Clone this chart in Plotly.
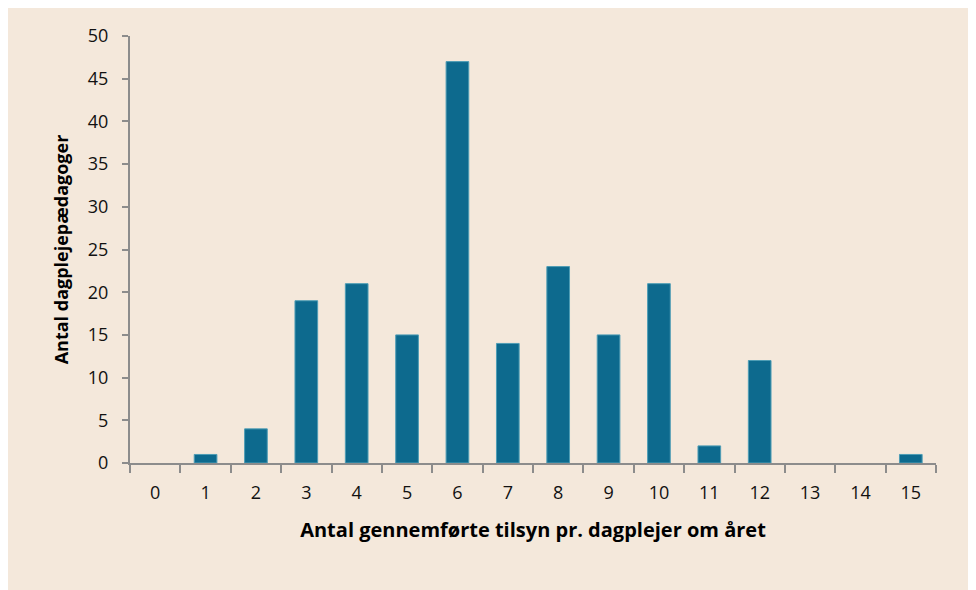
import plotly.graph_objects as go

categories = [str(i) for i in range(16)]
values = [0, 1, 4, 19, 21, 15, 47, 14, 23, 15, 21, 2, 12, 0, 0, 1]
y_ticks = [0, 5, 10, 15, 20, 25, 30, 35, 40, 45, 50]

# page has an 8px body margin, figure drawn at (8, 8)
OFF = 8
W, H = 976 - OFF, 590 - OFF
ML, MR, MT, MB = 130 - OFF, 40, 36 - OFF, 127

BG = "#F4E8DB"
BAR = "#0D6A8E"
AX = "#8C8C8C"
FONT = "Open Sans, Noto Sans, sans-serif"

fig = go.Figure()
fig.add_trace(go.Bar(
    x=categories, y=values, width=0.45,
    marker=dict(color=BAR,
                line=dict(color="#4E9DB5", width=[1 if v > 0 else 0 for v in values])),
))

fig.update_layout(
    width=W, height=H,
    margin=dict(l=ML, r=MR, t=MT, b=MB, pad=0),
    paper_bgcolor=BG, plot_bgcolor=BG,
    showlegend=False,
    font=dict(family=FONT, size=18, color="#111111"),
)
fig.update_xaxes(
    type="category", range=[-0.5, 15.5],
    showline=True, linecolor=AX, linewidth=2,
    ticks="outside", tickson="boundaries", ticklen=8, tickcolor=AX, tickwidth=2,
    ticklabelstandoff=12,
    showgrid=False, zeroline=False,
    tickfont=dict(size=18, family=FONT, color="#111111"),
    title=dict(text="<b>Antal gennemførte tilsyn pr. dagplejer om året</b>",
               font=dict(size=20, family=FONT, color="#000"), standoff=20),
)
fig.update_yaxes(
    range=[0, 50], tickvals=y_ticks,
    showline=True, linecolor=AX, linewidth=2,
    ticks="outside", ticklen=6, tickcolor=AX, tickwidth=2,
    ticklabelstandoff=10,
    showgrid=False, zeroline=False,
    tickfont=dict(size=18, family=FONT, color="#111111"),
    title=dict(text="<b>Antal dagplejepædagoger</b>",
               font=dict(size=18, family=FONT, color="#000"), standoff=15),
)

fig.write_html("out.html")
